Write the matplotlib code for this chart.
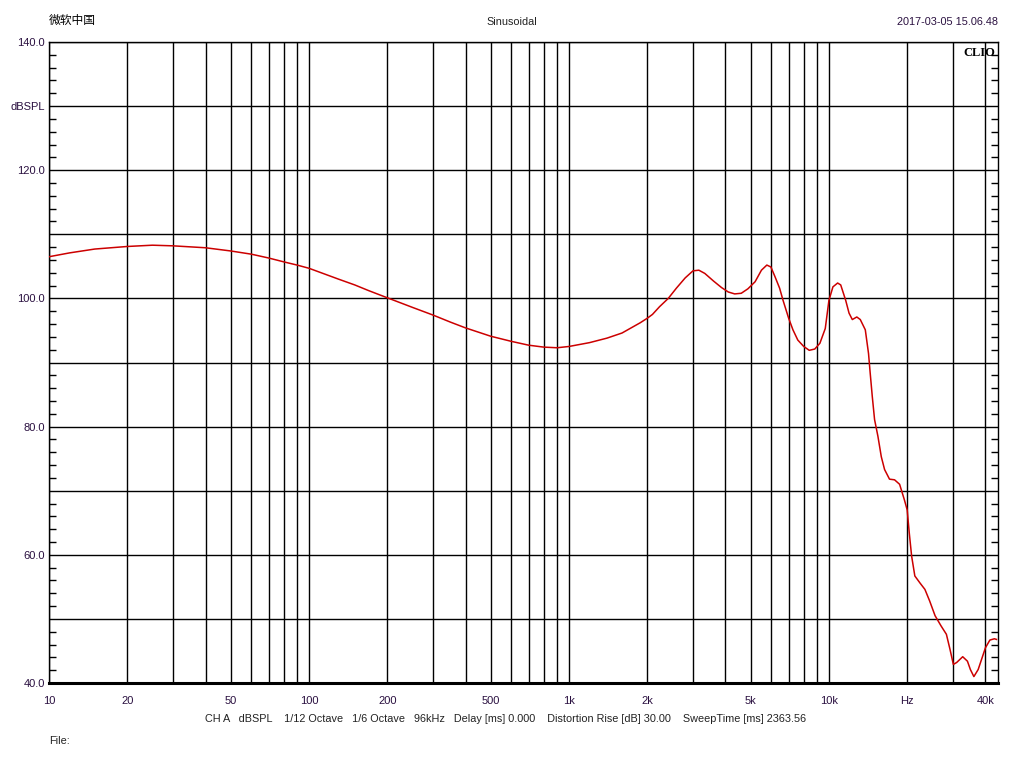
import numpy as np
import matplotlib.pyplot as plt
from matplotlib.ticker import FixedLocator, MultipleLocator

# frequency response
freq = [10, 12, 15, 20, 25, 30, 40, 50, 60, 70, 80, 90, 100, 130, 150, 170, 200,
        250, 300, 350, 400, 500, 600, 700, 800, 900, 1000, 1200, 1400, 1600, 1880,
        2000, 2095, 2230, 2410, 2590, 2800, 3000, 3160, 3330, 3600, 3860, 4100,
        4340, 4600, 4880, 5200, 5500, 5770, 5980, 6200, 6460, 6660, 7000, 7270,
        7590, 8000, 8400, 8820, 9230, 9680, 10000, 10360, 10800, 11100, 11600,
        11950, 12300, 12800, 13200, 13800, 14200, 14400, 14680, 14980, 15430,
        15900, 16370, 17100, 17880, 18700, 19500, 20000, 20360, 20800, 21400,
        22400, 23400, 24400, 25600, 27000, 28300, 29200, 30100, 31000, 32700,
        34100, 35000, 36100, 37500, 40000, 41600, 43300, 44100]
spl = [106.5, 107.1, 107.7, 108.1, 108.3, 108.2, 107.9, 107.4, 106.9, 106.3, 105.7,
       105.2, 104.7, 103.0, 102.1, 101.2, 100.1, 98.6, 97.4, 96.3, 95.4, 94.1, 93.3,
       92.7, 92.4, 92.3, 92.5, 93.1, 93.8, 94.6, 96.2, 96.9, 97.5, 98.7, 100.0,
       101.6, 103.2, 104.3, 104.4, 103.9, 102.7, 101.7, 101.0, 100.7, 100.8, 101.5,
       102.6, 104.4, 105.2, 104.9, 103.4, 101.6, 99.7, 96.9, 95.1, 93.5, 92.5, 91.9,
       92.1, 93.0, 95.3, 99.7, 101.8, 102.4, 102.1, 99.7, 97.7, 96.7, 97.1, 96.7,
       95.1, 91.4, 88.5, 84.7, 81.1, 78.5, 75.3, 73.3, 71.8, 71.7, 71.0, 68.6, 67.0,
       63.5, 59.8, 56.7, 55.6, 54.6, 52.8, 50.5, 48.9, 47.6, 45.3, 42.9, 43.2, 44.1,
       43.4, 42.1, 41.0, 42.1, 45.5, 46.7, 46.9, 46.8]

grid_x = [10, 20, 30, 40, 50, 60, 70, 80, 90,
          100, 200, 300, 400, 500, 600, 700, 800, 900,
          1000, 2000, 3000, 4000, 5000, 6000, 7000, 8000, 9000,
          10000, 20000, 30000, 40000]
x_labels = {10: '10', 20: '20', 50: '50', 100: '100', 200: '200', 500: '500',
            1000: '1k', 2000: '2k', 5000: '5k', 10000: '10k', 20000: 'Hz',
            40000: '40k'}
grid_y = list(range(40, 150, 10))
y_labels = {40: '40.0', 60: '60.0', 80: '80.0', 100: '100.0', 120: '120.0',
            130: 'dBSPL', 140: '140.0'}

lbl_col = '#2a1040'

fig = plt.figure(figsize=(10.24, 7.68), dpi=100)
ax = fig.add_axes([49 / 1024, 85 / 768, 949 / 1024, 641 / 768])

ax.plot(freq, spl, color='#cc0000', lw=1.1, zorder=3)

ax.set_xscale('log')
ax.set_xlim(10, 44700)
ax.set_ylim(40, 140)

ax.xaxis.set_major_locator(FixedLocator(grid_x))
ax.set_xticklabels([x_labels.get(v, '') for v in grid_x])
ax.xaxis.set_minor_locator(FixedLocator([]))
ax.yaxis.set_major_locator(FixedLocator(grid_y))
ax.set_yticklabels([y_labels.get(v, '') for v in grid_y])
ax.yaxis.set_minor_locator(MultipleLocator(2))

ax.grid(True, which='major', color='black', lw=1.0)
ax.tick_params(which='major', length=0, labelsize=8, labelcolor=lbl_col)
ax.tick_params(axis='x', which='major', pad=9)
ax.tick_params(axis='y', which='major', pad=3)
ax.tick_params(axis='y', which='minor', direction='in', length=5, width=1,
               left=True, right=True, color='black')

for s in ['left', 'top', 'right']:
    ax.spines[s].set_linewidth(1.0)
ax.spines['bottom'].set_linewidth(2.2)

for t in ax.get_xticklabels() + ax.get_yticklabels():
    t.set_family('Liberation Sans')

ax.text(0.997, 0.992, 'CLIO', transform=ax.transAxes, ha='right', va='top',
        fontsize=9, fontweight='bold', family='Liberation Serif', color='black')

fig.text(49 / 1024, 1 - 20 / 768, '微软中国', ha='left', va='center', fontsize=8.5,
         family=['Noto Sans CJK SC', 'DejaVu Sans'], color='black')
fig.text(512 / 1024, 1 - 22 / 768, 'Sinusoidal', ha='center', va='center',
         fontsize=7.8, family='Liberation Sans', color='#222222')
fig.text(998 / 1024, 1 - 22 / 768, '2017-03-05 15.06.48', ha='right', va='center',
         fontsize=7.8, family='Liberation Sans', color=lbl_col)

footer = ('CH A   dBSPL    1/12 Octave   1/6 Octave   96kHz   Delay [ms] 0.000    '
          'Distortion Rise [dB] 30.00    SweepTime [ms] 2363.56')
fig.text(506 / 1024, 1 - 719 / 768, footer, ha='center', va='center',
         fontsize=7.8, family='Liberation Sans', color='#222222')
fig.text(49 / 1024, 1 - 741 / 768, 'File:', ha='left', va='center',
         fontsize=7.8, family='Liberation Sans', color='#222222')

fig.savefig('out.png', dpi=100)
